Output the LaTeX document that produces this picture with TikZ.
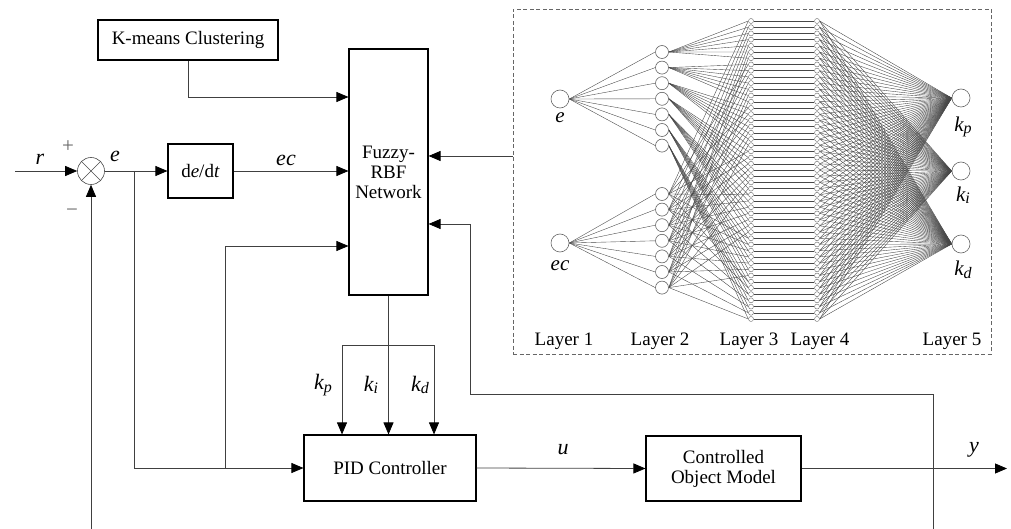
\documentclass[tikz,border=0pt]{standalone}
\usepackage{fontspec}
\setmainfont{Liberation Serif}
\newfontfamily\serifface{Liberation Serif}
\usetikzlibrary{arrows.meta,backgrounds}

% subscripted gain symbol, e.g. k_p
\newcommand\gainsym[1]{\textit{k}{\fontsize{16}{16}\selectfont\raisebox{-2.5pt}{\textit{#1}}}}

\tikzset{
  every node/.style={font=\serifface},
  blk/.style={draw=black, line width=1.1pt, inner sep=0pt, align=center,
              font=\serifface\fontsize{19}{20}\selectfont},
  wire/.style={draw=black!75, line width=0.8pt},
  arr/.style={wire, -{Triangle[length=12pt,width=10pt,color=black]}},
  var/.style={font=\serifface\fontsize{22}{22}\selectfont\itshape, inner sep=0pt},
  txt/.style={font=\serifface\fontsize{19}{20}\selectfont, inner sep=0pt},
  nn/.style={circle, draw=black!60, fill=white, line width=0.6pt, inner sep=0pt},
  syn/.style={draw=black!72, line width=0.38pt},
}

\begin{document}
\begin{tikzpicture}[x=1pt,y=-1pt]
\useasboundingbox (0,0) rectangle (1011,529);

% ---------------- control loop blocks ----------------
\node[blk, minimum width=180pt, minimum height=40pt] (kmeans) at (188,40) {K-means Clustering};
\node[blk, minimum width=65pt, minimum height=54pt] (ddt) at (200.5,171) {d\textit{e}/d\textit{t}};
\node[blk, minimum width=79pt, minimum height=246pt] (fuzzy) at (388.5,172) {Fuzzy-\\RBF\\Network};
\node[blk, minimum width=172pt, minimum height=66pt] (pid) at (390,468) {PID Controller};
\node[blk, minimum width=155pt, minimum height=65pt] (plant) at (723.5,468.5) {Controlled\\Object Model};

% summing junction
\node[circle, draw=black!70, line width=0.6pt, minimum size=27pt, inner sep=0pt] (sum) at (91,171) {};
\draw[black!70, line width=0.6pt] (sum.north west) -- (sum.south east)
                                  (sum.north east) -- (sum.south west);

% ---------------- junction points ----------------
\coordinate (rin) at (15,171);
\coordinate (ebr) at (134,171);
\coordinate (epid) at (134,468);
\coordinate (ebr2) at (225,468);
\coordinate (efz) at (225,246);
\coordinate (km) at (188,97);
\coordinate (fo) at (388.5,345);
\coordinate (fl) at (342,345);
\coordinate (fr) at (434,345);
\coordinate (yout) at (1007,468.5);
\coordinate (fbL) at (91,529);
\coordinate (fb1) at (933,529);
\coordinate (fb2) at (933,394);
\coordinate (fb3) at (470,394);
\coordinate (fb4) at (470,224);
\coordinate (nin) at (513,156);

% ---------------- connectors ----------------
\draw[arr] (rin) -- (sum.west);
\draw[arr] (sum.east) -- (ddt.west);
\draw[wire] (ebr) -- (epid);
\draw[arr] (epid) -- (pid.west);
\draw[arr] (ebr2) -- (efz) -- (fuzzy.west |- efz);
\draw[arr] (ddt.east) -- (fuzzy.west |- ddt.east);
\draw[arr] (kmeans.south) -- (km) -- (fuzzy.west |- km);
\draw[wire] (fuzzy.south) -- (fo);
\draw[wire] (fl) -- (fr);
\draw[arr] (fl) -- (pid.north -| fl);
\draw[arr] (fo) -- (pid.north -| fo);
\draw[arr] (fr) -- (pid.north -| fr);
\draw[arr] (pid.east) -- (plant.west);
\draw[arr] (plant.east) -- (yout);
\draw[arr] (fbL) -- (sum.south);
\draw[arr] (fb1) -- (fb2) -- (fb3) -- (fb4) -- (fuzzy.east |- fb4);
\draw[arr] (nin) -- (fuzzy.east |- nin);

% ---------------- signal labels ----------------
\node[var] (lr) at (40,159) {r};
\node[txt, text=black!60, font=\serifface\fontsize{21}{21}\selectfont] (lplus) at (68,147) {+};
\node[txt, text=black!60, font=\serifface\fontsize{21}{21}\selectfont] (lminus) at (72,213) {−};
\node[var] (le) at (115,156) {e};
\node[var] (lec) at (286,160) {ec};
\node[var] (lkp) at (323,385) {\gainsym{p}};
\node[var] (lki) at (371,385) {\gainsym{i}};
\node[var] (lkd) at (420,385) {\gainsym{d}};
\node[var] (lu) at (563,450) {u};
\node[var] (ly) at (974,450) {y};

% ---------------- fuzzy RBF network ----------------
\node[draw=black!60, dash pattern=on 4pt off 2.5pt, line width=0.7pt,
      minimum width=478pt, minimum height=345pt, inner sep=0pt] (netbox) at (752,181.5) {};

% layer 1
\node[nn, minimum size=18pt] (in1) at (560,99) {};
\node[nn, minimum size=18pt] (in2) at (560,243) {};
% layer 2
\foreach \i in {0,...,6} {
  \node[nn, minimum size=13pt] (a\i) at (662,52+\i*15.6) {};
  \node[nn, minimum size=13pt] (b\i) at (662,194+\i*15.6) {};
}
% layers 3 and 4
\foreach \k in {0,...,48} {
  \node[nn, minimum size=5pt, line width=0.4pt] (c\k) at (751,21+\k*6.208) {};
  \node[nn, minimum size=5pt, line width=0.4pt] (d\k) at (817,21+\k*6.208) {};
}
% layer 5
\node[nn, minimum size=18pt] (o1) at (961,98) {};
\node[nn, minimum size=18pt] (o2) at (961,171) {};
\node[nn, minimum size=18pt] (o3) at (961,244) {};

\begin{pgfonlayer}{background}
  \foreach \i in {0,...,6} {
    \draw[syn] (in1.east) -- (a\i.west);
    \draw[syn] (in2.east) -- (b\i.west);
  }
  \foreach \i in {0,...,6} {
    \foreach \j in {0,...,6} {
      \pgfmathtruncatemacro\kidx{7*\i+\j}
      \draw[syn] (a\i.east) -- (c\kidx.west);
      \draw[syn] (b\j.east) -- (c\kidx.west);
    }
  }
  \foreach \k in {0,...,48} {
    \draw[syn] (c\k.east) -- (d\k.west);
    \draw[syn] (d\k.east) -- (o1.west);
    \draw[syn] (d\k.east) -- (o2.west);
    \draw[syn] (d\k.east) -- (o3.west);
  }
\end{pgfonlayer}

% network labels
\node[var, font=\serifface\fontsize{21}{21}\selectfont\itshape] (ne) at (560,118) {e};
\node[var, font=\serifface\fontsize{21}{21}\selectfont\itshape] (nec) at (560,266) {ec};
\node[var, font=\serifface\fontsize{21}{21}\selectfont\itshape] (nkp) at (963,127) {\gainsym{p}};
\node[var, font=\serifface\fontsize{21}{21}\selectfont\itshape] (nki) at (963,195) {\gainsym{i}};
\node[var, font=\serifface\fontsize{21}{21}\selectfont\itshape] (nkd) at (963,270) {\gainsym{d}};
\node[txt] (lay1) at (564,341) {Layer 1};
\node[txt] (lay2) at (660,341) {Layer 2};
\node[txt] (lay3) at (749,341) {Layer 3};
\node[txt] (lay4) at (820,341) {Layer 4};
\node[txt] (lay5) at (952,341) {Layer 5};
\end{tikzpicture}
\end{document}
